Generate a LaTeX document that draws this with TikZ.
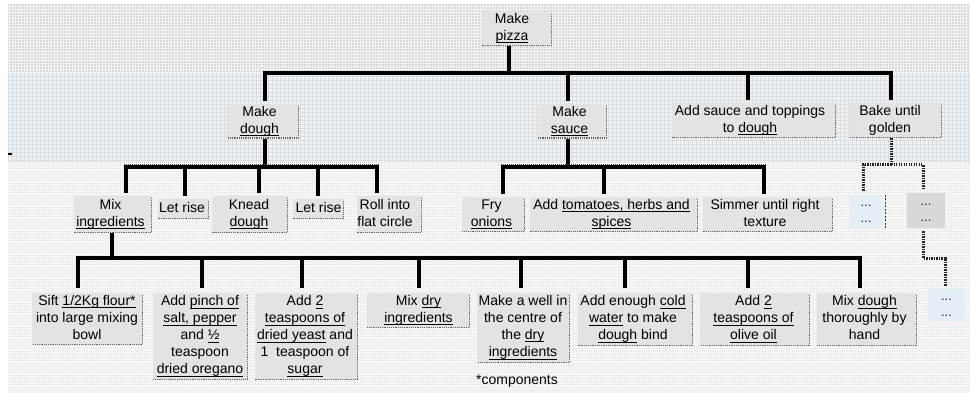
\documentclass[tikz,border=0pt]{standalone}
\usepackage{fontspec}
\setmainfont{Liberation Sans}
\usetikzlibrary{calc}

\definecolor{boxfill}{HTML}{E3E3E3}
\definecolor{bandtop}{HTML}{D9D9D9}
\definecolor{gridtop}{HTML}{F4F4F4}
\definecolor{bandmid}{HTML}{EDF1F3}
\definecolor{gridmid}{HTML}{D8DEE2}
\definecolor{bandlow}{HTML}{F8F8F8}
\definecolor{gridlow}{HTML}{EDEDED}
\definecolor{dotblue}{HTML}{E3EEF5}
\definecolor{dotgray}{HTML}{D8D8D8}

\newcommand{\bodyfont}{\fontsize{14}{17}\selectfont}
% underline at a fixed depth below the baseline
\newcommand{\ulx}[1]{\setbox0=\hbox{#1}\rlap{\rule[-2.4pt]{\wd0}{0.8pt}}\box0\relax}
% centred lines with optional extra space on the right
\newcommand{\cell}[2][0]{\begin{tabular}{@{}c@{}}#2\end{tabular}\hspace*{#1pt}}

\tikzset{
  stepbox/.style={fill=boxfill, inner sep=0pt, font=\bodyfont, text=black},
  dotbox/.style={inner sep=0pt, font=\fontsize{13}{16}\selectfont, text=black!85},
  sz/.style 2 args={minimum width=#1pt, minimum height=#2pt},
  conn/.style={line width=3.8pt, black},
  dotconn/.style={line width=3pt, black!85, dash pattern=on 1.4pt off 1.1pt},
  boxedge/.style={line width=1.3pt, black!60, dash pattern=on 1.2pt off 1pt},
  topedge/.style={line width=0.9pt, black!70, dash pattern=on 1pt off 1pt},
}

\begin{document}
\begin{tikzpicture}[x=1pt, y=-1pt]
\useasboundingbox (0,0) rectangle (970,393);
\fill[white] (0,0) rectangle (970,393);

% background bands
\fill[bandtop] (8,4) rectangle (970,73);
\draw[gridtop, line width=0.8pt, step=3pt] (8,4) grid (970,73);
\fill[bandmid] (8,73) rectangle (970,163);
\draw[gridmid, line width=0.6pt, step=4pt] (8,73) grid (970,163);
\fill[bandlow] (8,163) rectangle (970,393);
\draw[gridlow, line width=0.6pt, step=3pt] (8,163) grid (970,393);
\fill[black] (8,153) rectangle (12,155.5);

% top level
\node[stepbox, sz={70}{34}] (root) at (517,29) {\cell[10]{Make\\\ulx{pizza}}};

% main steps
\node[stepbox, sz={72}{33}] (dough) at (263,121.5) {\cell[7]{Make\\\ulx{dough}}};
\node[stepbox, sz={69}{33}] (sauce) at (572.5,121.5) {\cell[6]{Make\\\ulx{sauce}}};
\node[stepbox, sz={164}{35}] (toppings) at (754,120.5) {\cell[8]{Add sauce and toppings\\to \ulx{dough}}};
\node[stepbox, sz={93}{35}] (bake) at (895.5,120.5) {\cell[11]{Bake until\\golden}};

% dough steps
\node[stepbox, sz={78}{37}] (mix) at (113,214.5) {\cell[5]{Mix\\\ulx{ingredients}}};
\node[stepbox, sz={51}{20}] (rise1) at (183.5,209) {\cell[3]{Let rise}};
\node[stepbox, sz={76}{37}] (knead) at (250,214.5) {\cell[2]{Knead\\\ulx{dough}}};
\node[stepbox, sz={51}{20}] (rise2) at (318.5,209) {\cell{Let rise}};
\node[stepbox, sz={65}{37}] (roll) at (389.5,214.5) {\cell[9]{Roll into\\flat circle}};

% sauce steps
\node[stepbox, sz={63}{35}] (fry) at (493.5,214.5) {\cell[4]{Fry\\\ulx{onions}}};
\node[stepbox, sz={168}{35}] (tomato) at (614,214.5) {\cell[5]{Add \ulx{tomatoes, herbs and}\\\ulx{spices}}};
\node[stepbox, sz={130}{35}] (simmer) at (768,214.5) {\cell[6]{Simmer until right\\texture}};

% baking steps, not yet detailed
\node[dotbox, fill=dotblue, sz={32}{33}] (dots1) at (866,211.5) {\cell{...\\...}};
\node[dotbox, fill=dotgray, sz={38}{35}] (dots2) at (926,210.5) {\cell{...\\...}};
\node[dotbox, fill=dotblue, sz={37}{33}] (dots3) at (946.5,305.5) {\cell{...\\...}};

% mixing steps
\node[stepbox, sz={111}{52}] (sift) at (87.5,319) {\cell[1]{Sift \ulx{1/2Kg flour*}\\into large mixing\\bowl}};
\node[stepbox, sz={95}{87}] (pinch) at (200.5,336.5) {\cell[1]{Add \ulx{pinch of}\\\ulx{salt, pepper}\\and \ulx{½}\\teaspoon\\\ulx{dried oregano}}};
\node[stepbox, sz={103}{87}] (yeast) at (306.5,336.5) {\cell[3]{Add \ulx{2}\\\ulx{teaspoons of}\\\ulx{dried yeast} and\\1\ \ teaspoon of\\\ulx{sugar}}};
\node[stepbox, sz={103}{35}] (mixdry) at (418.5,310.5) {\cell{Mix \ulx{dry}\\\ulx{ingredients}}};
\node[stepbox, sz={93}{70}] (well) at (523.5,328) {\cell[1]{Make a well in\\the centre of\\the \ulx{dry}\\\ulx{ingredients}}};
\node[stepbox, sz={115}{53}] (water) at (635.5,319.5) {\cell[5]{Add enough \ulx{cold}\\\ulx{water} to make\\\ulx{dough} bind}};
\node[stepbox, sz={110}{53}] (olive) at (755,319.5) {\cell[3]{Add \ulx{2}\\\ulx{teaspoons of}\\\ulx{olive oil}}};
\node[stepbox, sz={100}{53}] (mixdough) at (867,319.5) {\cell[5]{Mix \ulx{dough}\\thoroughly by\\hand}};

\node[font=\bodyfont, inner sep=0pt] (note) at (517,381) {*components};

% shadowed right and bottom edges of the boxes
\foreach \n in {root,dough,sauce,toppings,bake,mix,rise1,knead,rise2,roll,fry,tomato,simmer,sift,pinch,yeast,mixdry,well,water,olive,mixdough}
  \draw[boxedge] ([shift={(-0.7,2)}]\n.north east) -- ([shift={(-0.7,-0.7)}]\n.south east) -- ([shift={(0,-0.7)}]\n.south west);
\draw[black!80, line width=0.8pt, dash pattern=on 2pt off 1.5pt] ([xshift=3pt]dots1.north east) -- ([xshift=3pt]dots1.south east);

% junction points of the connectors
\coordinate (busA) at (509,73);
\coordinate (busB) at (265,167);
\coordinate (busC) at (568,167);
\coordinate (busD) at (112,258);
\coordinate (busE) at (891,165);
\coordinate (busF) at (923,258);
\coordinate (edgeBl) at (124,164.6);
\coordinate (edgeBr) at (379,164.6);
\coordinate (edgeCl) at (501,164.6);
\coordinate (edgeCr) at (766,164.6);

% pizza -> main steps
\draw[conn] ([xshift=-8pt]root.south) -- (busA);
\foreach \n/\d in {dough/2, sauce/-4.5, toppings/-6, bake/-4.5}
  \draw[conn] (busA) -| ([shift={(\d,-3)}]\n.north);

% dough -> its steps
\draw[conn] ([xshift=2pt]dough.south) -- (busB);
\foreach \n/\d in {mix/13, rise1/1.5, knead/9, rise2/-0.5, roll/-12.5}
  \draw[conn] (busB) -| ([shift={(\d,-3)}]\n.north);
\draw[topedge] (edgeBl) -- (edgeBr);

% sauce -> its steps
\draw[conn] ([xshift=-4.5pt]sauce.south) -- (busC);
\foreach \n/\d in {fry/9.5, tomato/-10, simmer/-4}
  \draw[conn] (busC) -| ([shift={(\d,-3)}]\n.north);
\draw[topedge] (edgeCl) -- (edgeCr);

% mix ingredients -> its steps
\draw[conn] ([xshift=-1pt]mix.south) -- (busD);
\foreach \n/\d in {sift/-9.5, pinch/1.5, yeast/-4.5, mixdry/0.5, well/-2.5, water/-10.5, olive/-7, mixdough/-7}
  \draw[conn] (busD) -| ([shift={(\d,-5)}]\n.north);

% bake -> further steps
\draw[dotconn] ([xshift=-4.5pt]bake.south) -- (busE);
\draw[dotconn] (busE) -| ([shift={(-3,-4)}]dots1.north);
\draw[dotconn] (busE) -| ([shift={(-3,-4)}]dots2.north);
\draw[dotconn] ([shift={(-3,3)}]dots2.south) |- (busF) -| ([shift={(-1.5,-3)}]dots3.north);
\end{tikzpicture}
\end{document}
